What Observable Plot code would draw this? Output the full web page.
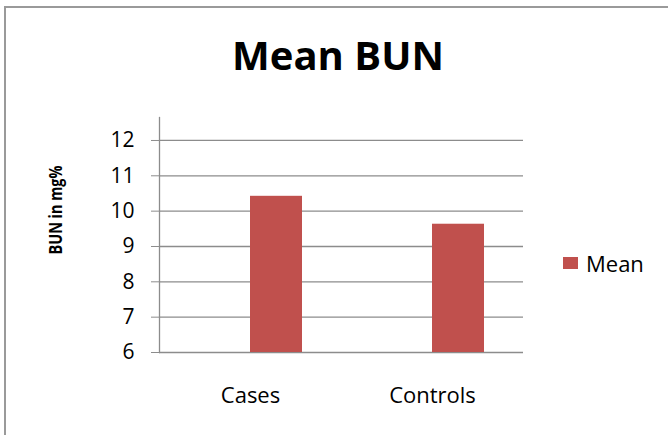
<!DOCTYPE html>
<html>
<head>
<meta charset="utf-8">
<script src="https://cdn.jsdelivr.net/npm/d3@7"></script>
<script src="https://cdn.jsdelivr.net/npm/@observablehq/plot@0.6"></script>
<style>
  body { margin: 0; background: #fff; }
  #chart { position: relative; width: 668px; height: 435px; overflow: hidden; background: #fff; font-family: "Open Sans", sans-serif; color: #000; }
  #border { position: absolute; left: 4px; top: 6px; width: 720px; height: 500px; border-left: 2px solid #9a9a9a; border-top: 2px solid #9a9a9a; }
  #title { position: absolute; left: 0; top: 35px; width: 676px; text-align: center; font-size: 40px; line-height: 40px; font-weight: 700; }
  #ylabel { position: absolute; left: 55px; top: 210px; transform: translate(-50%, -50%) rotate(-90deg) scaleX(0.8); font-size: 18px; font-weight: 700; white-space: nowrap; line-height: 20px; }
  #legend { position: absolute; left: 563px; top: 252px; display: flex; align-items: center; font-size: 22px; line-height: 22px; }
  #legend .sw { width: 15px; height: 12px; margin-right: 8px; }
  #plot { position: absolute; left: 0; top: 0; }
</style>
</head>
<body>
<div id="chart">
  <div id="border"></div>
  <div id="plot"></div>
  <div id="title"></div>
  <div id="ylabel"></div>
  <div id="legend"><span class="sw"></span><span class="lt"></span></div>
</div>
<script>
const titleText = "Mean BUN";
const yAxisTitle = "BUN in mg%";
const categories = ["Cases", "Controls"];
const series = ["", "Mean"];          // first (empty) series slot, as in the original clustered chart
const meanValues = [10.42, 9.63];
const yTicks = [6, 7, 8, 9, 10, 11, 12];
const barColor = "#C0504D";
const gridColor = "#8c8c8c";

const data = categories.map((c, i) => ({category: c, series: "Mean", value: meanValues[i]}));

document.getElementById("title").textContent = titleText;
document.getElementById("ylabel").textContent = yAxisTitle;
document.querySelector("#legend .sw").style.background = barColor;
document.querySelector("#legend .lt").textContent = series[1];

const chart = Plot.plot({
  width: 668,
  height: 435,
  marginLeft: 158,
  marginRight: 145,
  marginTop: 117,
  marginBottom: 83,
  style: {fontFamily: "Open Sans", fontSize: "21px", color: "#000", background: "transparent", overflow: "visible"},
  fx: {domain: categories, padding: 0, label: null},
  x: {domain: series, paddingInner: 0, paddingOuter: 0.75, axis: null},
  y: {domain: [yTicks[0], 12.65], label: null},
  marks: [
    Plot.gridY(yTicks, {stroke: gridColor, strokeOpacity: 1, strokeWidth: 1.3}),
    Plot.barY(data, {fx: "category", x: "series", y1: yTicks[0], y2: "value", fill: barColor}),
    Plot.axisY(yTicks, {tickSize: 8, tickPadding: 17, stroke: gridColor, strokeOpacity: 1, fontSize: 21, facetAnchor: "left"}),
    Plot.axisFx({anchor: "bottom", tickSize: 0, tickPadding: 35, fontSize: 22, label: null}),
    Plot.frame({anchor: "left", facetAnchor: "left", stroke: gridColor, strokeOpacity: 1, strokeWidth: 1.3})
  ]
});
document.getElementById("plot").appendChild(chart);
</script>
</body>
</html>
